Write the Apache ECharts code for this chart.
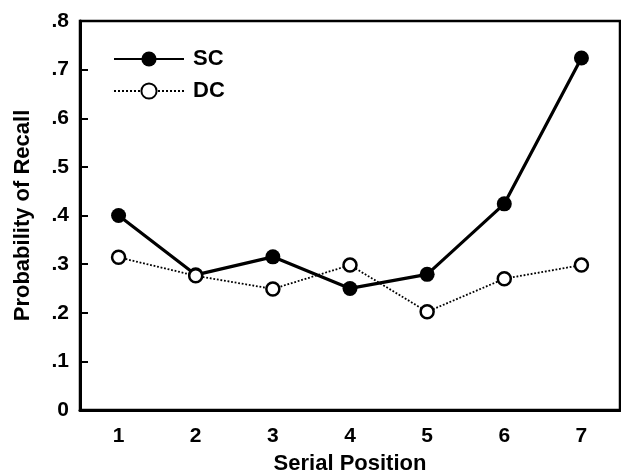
<!DOCTYPE html>
<html>
<head>
<meta charset="utf-8">
<script src="https://cdn.jsdelivr.net/npm/echarts@6/dist/echarts.min.js"></script>
<style>
html,body{margin:0;padding:0;background:#fff;}
#chart{width:621px;height:473px;}
</style>
</head>
<body>
<div id="chart"></div>
<script>
var positions = ['1', '2', '3', '4', '5', '6', '7'];
var scValues = [0.40, 0.278, 0.315, 0.25, 0.279, 0.424, 0.724];
var dcValues = [0.314, 0.276, 0.249, 0.298, 0.202, 0.27, 0.298];

var FONT = 'Liberation Sans, Arial, Helvetica, sans-serif';
var chart = echarts.init(document.getElementById('chart'), null, {renderer: 'canvas'});
chart.setOption({
  animation: false,
  backgroundColor: '#fff',
  textStyle: {fontFamily: FONT, color: '#000'},
  grid: {left: 80, right: 1, top: 21, bottom: 63, containLabel: false, outerBoundsMode: 'none',
    show: true, borderColor: '#000', borderWidth: 2.5, backgroundColor: 'transparent'},
  legend: {
    left: 108, top: 43, orient: 'vertical',
    itemWidth: 70, itemHeight: 19, itemGap: 10,
    textStyle: {fontFamily: FONT, fontSize: 22, fontWeight: 'bold', color: '#000', padding: [0, 0, 0, 4]},
    data: ['SC', 'DC']
  },
  xAxis: {
    type: 'category', data: positions, boundaryGap: true,
    name: 'Serial Position', nameLocation: 'middle', nameGap: 43,
    nameTextStyle: {fontFamily: FONT, fontSize: 22, fontWeight: 'bold', color: '#000'},
    axisLine: {lineStyle: {color: '#000', width: 3}},
    axisTick: {inside: true, alignWithLabel: true, length: 7, lineStyle: {color: '#000', width: 2}},
    axisLabel: {fontFamily: FONT, fontSize: 21, fontWeight: 'bold', color: '#000', margin: 16},
    splitLine: {show: false}
  },
  yAxis: {
    type: 'value', min: 0, max: 0.8, interval: 0.1,
    name: 'Probability of Recall', nameLocation: 'middle', nameGap: 46,
    nameTextStyle: {fontFamily: FONT, fontSize: 22, fontWeight: 'bold', color: '#000'},
    axisLine: {show: true, lineStyle: {color: '#000', width: 3}},
    axisTick: {show: true, inside: true, length: 8, lineStyle: {color: '#000', width: 2}},
    axisLabel: {fontFamily: FONT, fontSize: 21, fontWeight: 'bold', color: '#000', margin: 11,
      formatter: function (v) { return v === 0 ? '0' : v.toFixed(1).replace(/^0/, ''); }},
    splitLine: {show: false}
  },
  series: [
    {
      name: 'SC', type: 'line', data: scValues,
      symbol: 'circle', symbolSize: 15,
      lineStyle: {color: '#000', width: 3.2},
      itemStyle: {color: '#000'}
    },
    {
      name: 'DC', type: 'line', data: dcValues,
      symbol: 'circle', symbolSize: 13,
      lineStyle: {color: '#000', width: 1.8, type: 'dotted'},
      itemStyle: {color: '#fff', borderColor: '#000', borderWidth: 2.5}
    }
  ]
});
</script>
</body>
</html>
